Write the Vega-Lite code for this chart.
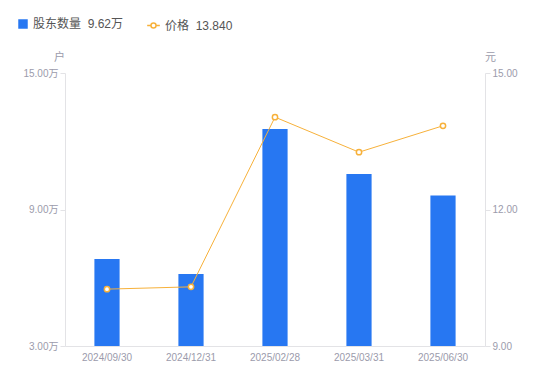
{
  "$schema": "https://vega.github.io/schema/vega-lite/v6.json",
  "autosize": "none",
  "width": 420,
  "height": 273,
  "padding": {"left": 65, "top": 73, "right": 65, "bottom": 35},
  "background": "white",
  "config": {
    "view": {"stroke": null},
    "font": "Liberation Sans, Noto Sans CJK SC, sans-serif",
    "axis": {"grid": false, "labelColor": "#9b9bab", "labelFontSize": 10, "domainColor": "#e3e3e6", "tickColor": "#e3e3e6", "titleColor": "#9b9bab", "titleFontWeight": "normal", "titleFontSize": 11}
  },
  "data": {
    "values": [
      {"date": "2024/09/30", "holders": 6.82, "price": 10.25},
      {"date": "2024/12/31", "holders": 6.16, "price": 10.30},
      {"date": "2025/02/28", "holders": 12.54, "price": 14.03},
      {"date": "2025/03/31", "holders": 10.56, "price": 13.26},
      {"date": "2025/06/30", "holders": 9.62, "price": 13.84}
    ]
  },
  "encoding": {
    "x": {
      "field": "date", "type": "nominal", "sort": null,
      "scale": {"paddingInner": 0.7, "paddingOuter": 0.35},
      "axis": {"title": null, "labelAngle": 0, "ticks": false, "labelPadding": 6, "domainColor": "#e3e3e6"}
    }
  },
  "layer": [
    {
      "mark": {"type": "bar", "color": "#2777F2", "clip": true},
      "encoding": {
        "y": {
          "field": "holders", "type": "quantitative",
          "scale": {"domain": [3, 15], "nice": false, "zero": false},
          "axis": {"values": [3, 9, 15], "labelExpr": "format(datum.value, '.2f') + '万'", "tickSize": 5, "labelPadding": 2, "title": "户", "titleAngle": 0, "titleX": -6, "titleY": -16, "titleAlign": "center", "titleBaseline": "middle"}
        },
        "color": {
          "datum": "股东数量",
          "scale": {"range": ["#2777F2"]},
          "legend": {"orient": "none", "legendX": -48, "legendY": -55, "title": null, "symbolType": "square", "symbolSize": 90, "labelFontSize": 12, "labelColor": "#555", "labelOffset": 4, "labelExpr": "datum.label + '\u00a0\u00a09.62万'"}
        }
      }
    },
    {
      "mark": {"type": "line", "strokeWidth": 1},
      "encoding": {
        "y": {
          "field": "price", "type": "quantitative",
          "scale": {"domain": [9, 15], "nice": false, "zero": false},
          "axis": {"orient": "right", "values": [9, 12, 15], "format": ".2f", "tickSize": 5, "labelPadding": 2, "title": "元", "titleAngle": 0, "titleX": 5, "titleY": -16, "titleAlign": "center", "titleBaseline": "middle"}
        },
        "stroke": {
          "datum": "价格",
          "scale": {"range": ["#F7B13A"]},
          "legend": {"orient": "none", "legendX": 81, "legendY": -55, "title": null, "symbolType": "M-1,0L-0.4,0M0.4,0L1,0M-0.4,0A0.4,0.4 0 1,0 0.4,0A0.4,0.4 0 1,0 -0.4,0", "symbolSize": 160, "symbolStrokeWidth": 1.5, "symbolFillColor": "white", "labelFontSize": 12, "labelColor": "#555", "labelOffset": 4, "labelExpr": "datum.label + '\u00a0\u00a013.840'"}
        }
      }
    },
    {
      "mark": {"type": "point", "filled": false, "fill": "white", "stroke": "#F7B13A", "strokeWidth": 1.5, "size": 28, "opacity": 1},
      "encoding": {
        "y": {"field": "price", "type": "quantitative", "scale": {"domain": [9, 15], "nice": false, "zero": false}, "axis": null}
      }
    }
  ],
  "resolve": {"scale": {"y": "independent"}}
}
